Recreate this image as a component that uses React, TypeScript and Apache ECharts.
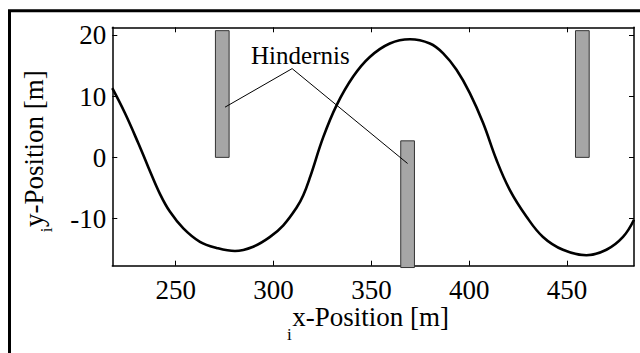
import React, { useEffect, useRef } from "react";
import * as echarts from "echarts";

// Path of the vehicle (x, y in metres)
const pathX = [217.6, 224.1, 230.9, 236.0, 242.0, 247.1, 253.9, 262.4, 270.9, 280.3, 289.6, 298.2, 305.0, 311.8, 315.2, 318.8, 325.4, 332.2, 340.7, 349.2, 359.4, 369.7, 379.9, 386.7, 393.5, 400.3, 407.1, 413.9, 420.7, 429.3, 437.7, 447.9, 459.9, 470.1, 478.6, 484.2];
const pathY = [11.3, 7.2, 2.3, -1.6, -6.0, -8.9, -11.6, -13.8, -14.8, -15.3, -14.6, -13.0, -11.1, -8.2, -6.2, -3.1, 3.3, 8.5, 13.2, 16.4, 18.6, 19.3, 18.6, 17.0, 14.3, 10.5, 5.6, -0.4, -5.3, -9.7, -13.0, -15.1, -16.0, -15.1, -13.0, -10.2];

// Obstacles (Hindernisse)
const obstacleX0 = [270.3, 365.0, 454.3];
const obstacleX1 = [277.3, 372.0, 461.3];
const obstacleY0 = [0, -18.0, 0];
const obstacleY1 = [20.7, 2.7, 20.7];

// Annotation
const annotationText = "Hindernis";
const annotationTextPos = [313.7, 16.6];
const annotationVertex = [309.5, 14.5];
const annotationTargetsX = [275.2, 368.5];
const annotationTargetsY = [8.2, -1.0];

// Axes
const xTicks = [250, 300, 350, 400, 450];
const yTicks = [-10, 0, 10, 20];
const xRange = [217.6, 484.2];
const yRange = [-17.7, 21.25];
const xName = "x-Position [m]";
const yName = "y-Position [m]";
const nameSub = "i";

const serif = (size: number) => `${size}px "Liberation Serif"`;

export default function App() {
  const ref = useRef<HTMLDivElement>(null);

  useEffect(() => {
    if (!ref.current) return;
    const chart = echarts.init(ref.current, null, { renderer: "svg" });

    const lineData = pathX.map((x, i) => [x, pathY[i]]);
    const obstacleData = obstacleX0.map((x0, i) => [x0, obstacleX1[i], obstacleY0[i], obstacleY1[i]]);

    const tickCommon = { show: true, inside: true, length: 5, lineStyle: { color: "#000", width: 1 } };
    const lineCommon = { show: true, onZero: false, lineStyle: { color: "#000", width: 1.5 } };

    const axisBase = (range: number[], ticks: number[], position: string) => ({
      type: "value",
      min: range[0],
      max: range[1],
      position,
      axisLine: lineCommon,
      axisTick: { ...tickCommon, customValues: ticks },
      axisLabel: { show: false },
      splitLine: { show: false },
    });

    const option: any = {
      animation: false,
      backgroundColor: "#fff",
      grid: { left: 112.3, top: 27.3, right: 6, bottom: 87.3, containLabel: false },
      xAxis: [axisBase(xRange, xTicks, "bottom"), axisBase(xRange, xTicks, "top")],
      yAxis: [axisBase(yRange, yTicks, "left"), axisBase(yRange, yTicks, "right")],
      series: [
        {
          type: "custom",
          xAxisIndex: 0,
          yAxisIndex: 0,
          clip: false,
          z: 3,
          data: obstacleData,
          renderItem: (params: any, api: any) => {
            const p0 = api.coord([api.value(0), api.value(3)]);
            const p1 = api.coord([api.value(1), api.value(2)]);
            return {
              type: "rect",
              shape: { x: p0[0], y: p0[1], width: p1[0] - p0[0], height: p1[1] - p0[1] },
              style: { fill: "#a6a6a6", stroke: "#333", lineWidth: 1 },
            };
          },
        },
        {
          type: "line",
          xAxisIndex: 0,
          yAxisIndex: 0,
          data: lineData,
          showSymbol: false,
          smooth: 0.4,
          z: 4,
          lineStyle: { color: "#000", width: 2.6 },
        },
        {
          type: "custom",
          xAxisIndex: 0,
          yAxisIndex: 0,
          clip: false,
          z: 5,
          data: [[annotationVertex[0], annotationVertex[1]]],
          renderItem: (params: any, api: any) => {
            const v = api.coord(annotationVertex);
            const children: any[] = annotationTargetsX.map((x, i) => {
              const p = api.coord([x, annotationTargetsY[i]]);
              return {
                type: "line",
                shape: { x1: v[0], y1: v[1], x2: p[0], y2: p[1] },
                style: { stroke: "#000", lineWidth: 1 },
              };
            });
            return { type: "group", children };
          },
        },
      ],
    };

    chart.setOption(option);

    // Texts placed through the axes' own scales
    const px = (v: number) => chart.convertToPixel({ xAxisIndex: 0 }, v) as number;
    const py = (v: number) => chart.convertToPixel({ yAxisIndex: 0 }, v) as number;
    const left = px(xRange[0]);
    const right = px(xRange[1]);
    const bottom = py(yRange[0]);
    const top = py(yRange[1]);
    const cx = (left + right) / 2;
    const cy = (top + bottom) / 2;

    const txt = (text: string, x: number, y: number, size: number, align: string, rotation = 0) => ({
      type: "text",
      x,
      y,
      rotation,
      z: 50,
      silent: true,
      style: { text, font: serif(size), fill: "#000", align, verticalAlign: "middle" },
    });

    const graphics: any[] = [
      {
        type: "rect",
        z: 100,
        silent: true,
        shape: { x: 9.5, y: 10.8, width: 1000, height: 1000 },
        style: { fill: "none", stroke: "#000", lineWidth: 3 },
      },
    ];
    xTicks.forEach((t) => graphics.push(txt(String(t), px(t), bottom + 23.8, 27, "center")));
    yTicks.forEach((t) => graphics.push(txt(String(t), left - 6, py(t) + 0.5, 27, "right")));

    // x axis name with leading subscript
    const xNameLeft = cx - 81;
    graphics.push(txt(xName, xNameLeft, bottom + 51.5, 27, "left"));
    graphics.push(txt(nameSub, xNameLeft - 0.5, bottom + 68.6, 17, "right"));

    // y axis name (rotated) with leading subscript
    const yNameBottom = cy + 80.5;
    graphics.push(txt(yName, left - 78.3, yNameBottom, 27, "left", Math.PI / 2));
    graphics.push(txt(nameSub, left - 66, yNameBottom + 0.5, 17, "right", Math.PI / 2));

    // annotation label
    const a = chart.convertToPixel({ gridIndex: 0 }, annotationTextPos) as number[];
    graphics.push(txt(annotationText, a[0], a[1], 25, "center"));

    chart.setOption({ graphic: graphics });

    return () => chart.dispose();
  }, []);

  return (
    <>
      <style>{`#chart-root svg text, #chart-root svg tspan { font-family: "Liberation Serif", "Times New Roman", Tinos, serif !important; }`}</style>
      <div
        id="chart-root"
        ref={ref}
        style={{ position: "absolute", left: 0, top: 0, width: 640, height: 353, background: "#fff" }}
      />
    </>
  );
}
